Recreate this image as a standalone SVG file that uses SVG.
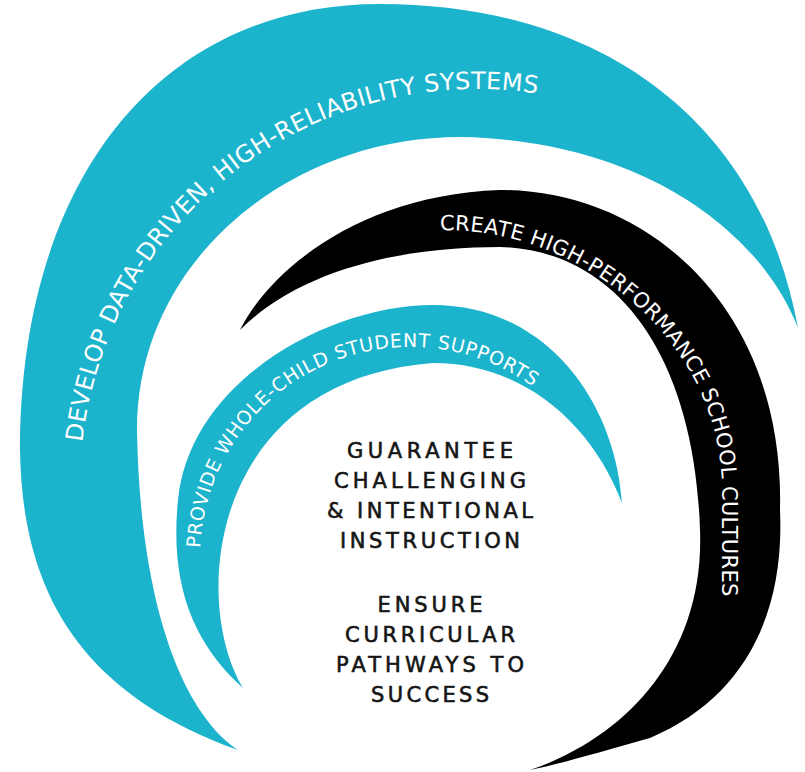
<svg xmlns="http://www.w3.org/2000/svg" width="805" height="772" viewBox="0 0 805 772">
  <style>
    .teal { fill: #1CB3CC; }
    .dark { fill: #000000; }
    .band-text { fill: #ffffff; font-family: "DejaVu Sans", "Liberation Sans", sans-serif; }
    .center { fill: #151515; stroke: #151515; stroke-width: 0.6; font-family: "DejaVu Sans", "Liberation Sans", sans-serif; font-size: 21px; text-anchor: middle; }
  </style>
  <defs>
    <path id="p-outer" d="M 80,486 A 397 397 0 0 1 675.5,142.2" fill="none"/>
    <path id="p-middle" d="M 420,232 C 560,215 722,330 722,490 L 722,660" fill="none"/>
    <path id="p-inner" d="M 200,557 A 210 210 0 0 1 591.9,452" fill="none"/>
  </defs>
  <rect width="805" height="772" fill="#ffffff"/>

  <g id="ring-outer">
    <path class="teal" d="M 798,328 C 760,120 600,4 380,4 C 160,4 20,180 20,450 C 22,580 70,690 238,750 C 185,715 140,610 137,430 C 137,260 290,137 460,137 C 640,140 760,230 798,328 Z"/>
    <text class="band-text" font-size="24"><textPath href="#p-outer" startOffset="44" textLength="640" lengthAdjust="spacing">DEVELOP DATA-DRIVEN, HIGH-RELIABILITY SYSTEMS</textPath></text>
  </g>

  <g id="ring-middle">
    <path class="dark" d="M 240,330 C 270,270 360,195 500,190 C 650,190 785,310 780,510 C 785,620 740,700 650,738 C 600,752 560,764 530,770 C 620,740 705,660 700,530 C 695,360 620,250 500,247 C 400,247 300,270 240,330 Z"/>
    <text class="band-text" font-size="21"><textPath href="#p-middle" startOffset="20" textLength="531" lengthAdjust="spacing">CREATE HIGH-PERFORMANCE SCHOOL CULTURES</textPath></text>
  </g>

  <g id="ring-inner">
    <path class="teal" d="M 622,503 C 615,400 545,305 433,305 C 330,305 190,380 178,500 C 170,580 190,640 243,688 C 190,600 210,380 433,363 C 520,363 590,420 622,503 Z"/>
    <text class="band-text" font-size="19"><textPath href="#p-inner" startOffset="9" textLength="452" lengthAdjust="spacing">PROVIDE WHOLE-CHILD STUDENT SUPPORTS</textPath></text>
  </g>

  <g id="center-text">
    <text class="center" x="430" y="458" textLength="166" lengthAdjust="spacing">GUARANTEE</text>
    <text class="center" x="430" y="488" textLength="192" lengthAdjust="spacing">CHALLENGING</text>
    <text class="center" x="430" y="518" textLength="206" lengthAdjust="spacing">&amp; INTENTIONAL</text>
    <text class="center" x="430" y="548" textLength="180" lengthAdjust="spacing">INSTRUCTION</text>
    <text class="center" x="430" y="612" textLength="105" lengthAdjust="spacing">ENSURE</text>
    <text class="center" x="430" y="642" textLength="170" lengthAdjust="spacing">CURRICULAR</text>
    <text class="center" x="430" y="672" textLength="188" lengthAdjust="spacing">PATHWAYS TO</text>
    <text class="center" x="430" y="702" textLength="118" lengthAdjust="spacing">SUCCESS</text>
  </g>
</svg>
